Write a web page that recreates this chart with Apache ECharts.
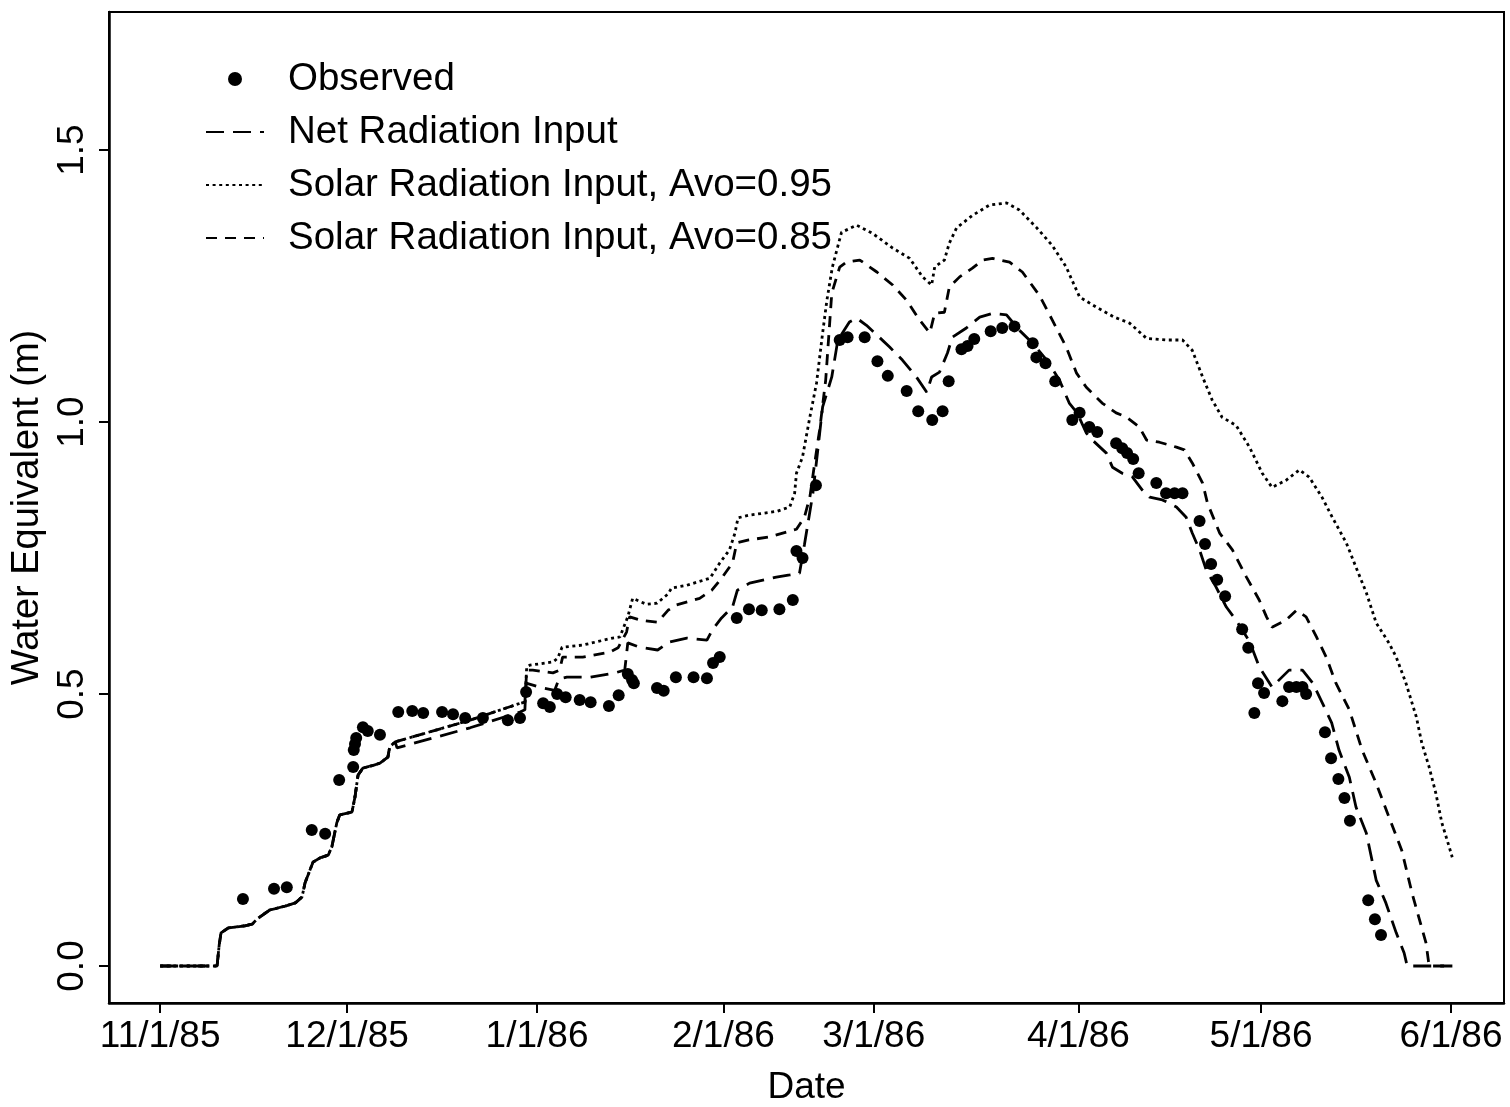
<!DOCTYPE html>
<html>
<head>
<meta charset="utf-8">
<script src="https://cdn.jsdelivr.net/npm/echarts@6/dist/echarts.min.js"></script>
<style>
html,body{margin:0;padding:0;background:#fff;}
#chart{width:1510px;height:1107px;}
</style>
</head>
<body>
<div id="chart"></div>
<script>
// x values are days after 11/1/85 (linear scale of the original plot)
const xTickPositions = [0, 30.7, 61.9, 92.5, 117.2, 150.8, 180.8, 212.0];
const xTickLabels = ['11/1/85', '12/1/85', '1/1/86', '2/1/86', '3/1/86', '4/1/86', '5/1/86', '6/1/86'];
const yTickValues = [0, 0.5, 1.0, 1.5];
const yTickLabels = ['0.0', '0.5', '1.0', '1.5'];

const seriesNames = ['Observed', 'Net Radiation Input', 'Solar Radiation Input, Avo=0.95', 'Solar Radiation Input, Avo=0.85'];

const observed = [[13.6,0.123],[18.7,0.142],[20.8,0.145],[24.9,0.250],[27.1,0.243],[29.4,0.342],[31.7,0.366],[31.8,0.397],[32.0,0.408],[32.2,0.419],[33.3,0.439],[34.1,0.432],[36.1,0.425],[39.1,0.467],[41.4,0.469],[43.2,0.465],[46.3,0.467],[48.1,0.463],[50.1,0.456],[53.0,0.456],[57.1,0.452],[59.1,0.456],[60.1,0.504],[62.9,0.483],[64.0,0.476],[65.2,0.500],[66.6,0.494],[68.9,0.489],[70.7,0.485],[73.7,0.478],[75.3,0.498],[76.8,0.537],[77.5,0.526],[77.8,0.520],[81.6,0.511],[82.7,0.506],[84.7,0.531],[87.6,0.531],[89.8,0.529],[90.8,0.557],[91.9,0.568],[94.7,0.640],[96.7,0.656],[98.8,0.654],[101.7,0.656],[103.9,0.673],[104.5,0.763],[105.5,0.750],[107.7,0.884],[111.6,1.151],[112.9,1.156],[115.7,1.156],[117.8,1.112],[119.5,1.085],[122.6,1.057],[124.5,1.020],[126.8,1.004],[128.5,1.020],[129.5,1.075],[131.6,1.134],[132.6,1.140],[133.7,1.153],[136.4,1.167],[138.3,1.173],[140.3,1.176],[143.3,1.145],[143.9,1.119],[145.4,1.108],[147.0,1.075],[149.8,1.004],[151.0,1.017],[152.6,0.991],[153.9,0.982],[157.0,0.961],[158.0,0.952],[158.8,0.943],[159.8,0.932],[160.7,0.906],[163.6,0.888],[165.2,0.869],[166.6,0.869],[167.9,0.869],[170.7,0.818],[171.6,0.776],[172.6,0.739],[173.6,0.710],[174.9,0.680],[177.7,0.619],[178.7,0.585],[179.7,0.465],[180.3,0.520],[181.3,0.502],[184.3,0.487],[185.4,0.513],[186.6,0.513],[187.6,0.513],[188.2,0.500],[191.3,0.430],[192.3,0.382],[193.5,0.344],[194.5,0.309],[195.4,0.267],[198.4,0.121],[199.5,0.086],[200.5,0.057]];

// early-season part shared by all three model runs
const commonRise = [[0,0],[9.35,0],[9.7,0.039],[10.0,0.061],[11.2,0.070],[13.9,0.074],[15.1,0.077],[16.1,0.088],[18.0,0.103],[20.5,0.110],[22.2,0.116],[23.3,0.127],[23.8,0.153],[25.1,0.191],[26.3,0.199],[27.6,0.204],[28.2,0.219],[29.0,0.263],[29.5,0.278],[31.5,0.283],[32.0,0.311],[32.5,0.351],[33.3,0.364],[35.0,0.369],[36.1,0.373],[37.4,0.384],[37.7,0.403],[38.6,0.412]];

const netRadiationRest = [[38.9,0.401],[50.9,0.438],[59.1,0.467],[59.9,0.471],[60.1,0.520],[62.9,0.511],[64.8,0.507],[65.5,0.528],[66.8,0.531],[70.6,0.531],[74.7,0.539],[76.3,0.544],[76.8,0.594],[78.8,0.586],[81.7,0.581],[83.7,0.596],[86.5,0.603],[89.8,0.599],[90.7,0.618],[92.2,0.640],[94.0,0.660],[94.8,0.691],[96.8,0.704],[101.2,0.715],[103.4,0.719],[105.0,0.722],[105.8,0.774],[107.2,0.869],[108.8,1.028],[110.3,1.083],[111.3,1.151],[113.2,1.184],[114.4,1.191],[116.0,1.178],[118.1,1.156],[119.8,1.138],[121.9,1.114],[124.2,1.083],[125.9,1.055],[126.7,1.083],[128.0,1.092],[129.3,1.127],[130.1,1.156],[132.4,1.173],[134.6,1.193],[136.7,1.200],[139.0,1.197],[141.1,1.169],[143.3,1.145],[145.6,1.114],[147.7,1.077],[149.3,1.035],[150.6,1.017],[152.1,0.980],[153.1,0.967],[155.4,0.943],[156.4,0.917],[158.0,0.906],[159.7,0.899],[161.3,0.875],[162.5,0.862],[164.6,0.857],[166.9,0.844],[168.5,0.825],[169.5,0.796],[170.7,0.765],[171.8,0.728],[173.4,0.697],[175.1,0.660],[176.7,0.636],[178.9,0.597],[180.5,0.550],[182.6,0.513],[185.4,0.544],[187.6,0.544],[189.3,0.520],[190.9,0.483],[192.4,0.447],[193.6,0.397],[195.3,0.347],[196.4,0.292],[198.1,0.244],[199.7,0.158],[201.3,0.116],[203.0,0.061],[204.3,0.024],[204.8,0],[212.2,0]];

const solar95Rest = [[38.9,0.415],[50.9,0.452],[59.1,0.483],[59.9,0.485],[60.2,0.550],[60.7,0.553],[64.5,0.559],[65.3,0.566],[66.0,0.586],[69.4,0.590],[74.3,0.603],[75.5,0.605],[76.8,0.642],[77.6,0.676],[79.9,0.665],[81.6,0.667],[83.4,0.684],[84.0,0.695],[86.5,0.700],[90.3,0.713],[91.9,0.741],[93.5,0.765],[94.4,0.796],[94.9,0.824],[96.8,0.829],[101.3,0.836],[103.4,0.844],[104.2,0.869],[104.5,0.906],[105.5,0.936],[106.7,1.009],[107.8,1.072],[108.8,1.164],[109.5,1.224],[110.4,1.285],[111.9,1.349],[114.4,1.362],[117.0,1.347],[120.3,1.320],[123.1,1.301],[125.2,1.267],[126.7,1.252],[127.2,1.285],[128.8,1.298],[129.6,1.329],[130.8,1.357],[133.4,1.380],[136.2,1.399],[139.0,1.403],[141.1,1.390],[143.9,1.358],[146.5,1.325],[148.8,1.285],[151.0,1.230],[153.8,1.211],[156.7,1.193],[159.2,1.182],[162.0,1.154],[165.2,1.151],[167.9,1.151],[169.5,1.132],[171.2,1.083],[172.8,1.040],[174.4,1.009],[176.7,0.994],[178.9,0.954],[181.0,0.906],[182.6,0.880],[184.9,0.893],[187.1,0.912],[188.7,0.899],[190.8,0.862],[192.5,0.825],[194.8,0.778],[196.4,0.733],[198.1,0.686],[199.7,0.631],[201.8,0.594],[203.0,0.568],[204.6,0.520],[206.3,0.458],[207.2,0.410],[208.4,0.366],[209.5,0.318],[210.5,0.263],[211.7,0.219],[212.2,0.200]];

const solar85Rest = [[38.9,0.415],[50.9,0.452],[59.1,0.483],[59.9,0.485],[60.2,0.544],[61.2,0.544],[64.5,0.539],[65.6,0.544],[66.1,0.568],[69.4,0.568],[73.8,0.577],[75.2,0.585],[76.6,0.614],[77.1,0.642],[78.8,0.636],[81.7,0.632],[83.4,0.654],[84.8,0.664],[88.6,0.676],[90.6,0.691],[92.2,0.713],[94.0,0.741],[94.7,0.778],[96.5,0.783],[100.1,0.789],[102.9,0.798],[104.5,0.803],[105.8,0.825],[106.7,0.862],[107.5,0.925],[108.3,0.985],[109.3,1.077],[110.3,1.237],[111.6,1.285],[112.7,1.294],[114.9,1.298],[117.7,1.276],[120.3,1.252],[122.6,1.224],[124.7,1.188],[126.4,1.164],[127.2,1.200],[128.8,1.202],[129.6,1.248],[131.3,1.267],[133.4,1.283],[135.1,1.298],[136.7,1.301],[139.5,1.294],[141.6,1.276],[144.4,1.233],[146.5,1.188],[148.8,1.138],[150.5,1.090],[152.1,1.064],[154.7,1.035],[157.0,1.017],[158.7,1.009],[160.8,0.991],[162.0,0.967],[164.1,0.963],[166.9,0.954],[168.2,0.949],[169.5,0.925],[171.2,0.888],[172.0,0.851],[174.0,0.796],[176.1,0.765],[178.4,0.715],[180.5,0.673],[181.7,0.642],[182.6,0.623],[184.9,0.636],[186.6,0.654],[188.2,0.642],[189.9,0.605],[191.5,0.568],[193.1,0.520],[195.3,0.471],[197.4,0.397],[199.7,0.336],[201.8,0.274],[203.9,0.213],[205.6,0.134],[206.7,0.090],[207.9,0.042],[208.4,0],[212.2,0]];

const netRadiation = commonRise.concat(netRadiationRest);
const solar95 = commonRise.concat(solar95Rest);
const solar85 = commonRise.concat(solar85Rest);

const FONT = '"Liberation Sans", Arial, Helvetica, sans-serif';
const chart = echarts.init(document.getElementById('chart'), null, {renderer: 'canvas'});

function lineSeries(name, data, dash) {
  return {
    name: name, type: 'line', data: data, showSymbol: false, symbol: 'none',
    silent: true, animation: false,
    lineStyle: {color: '#000', width: 2.8, type: dash},
    itemStyle: {color: '#000'}
  };
}

chart.setOption({
  backgroundColor: '#fff',
  animation: false,
  grid: {
    left: 109, right: 6, top: 12, bottom: 104,
    containLabel: false, outerBoundsMode: 'none',
    show: true, borderColor: '#000', borderWidth: 2, backgroundColor: 'transparent'
  },
  legend: {
    orient: 'vertical', left: 200, top: 52, itemWidth: 58, itemHeight: 14, itemGap: 9,
    selectedMode: false,
    textStyle: {fontFamily: FONT, fontSize: 38.5, color: '#000', lineHeight: 44, padding: [0, 0, 0, 19]},
    data: [
      {name: seriesNames[0], itemStyle: {opacity: 1}},
      {name: seriesNames[1], itemStyle: {opacity: 0}},
      {name: seriesNames[2], itemStyle: {opacity: 0}},
      {name: seriesNames[3], itemStyle: {opacity: 0}}
    ]
  },
  xAxis: {
    type: 'value', min: -8.4, max: 220.7,
    name: 'Date', nameLocation: 'middle', nameGap: 66,
    nameTextStyle: {fontFamily: FONT, fontSize: 37, color: '#000'},
    splitLine: {show: false},
    axisLine: {show: true, onZero: false, lineStyle: {color: '#000', width: 2.5}},
    axisTick: {show: true, length: 10, customValues: xTickPositions, lineStyle: {color: '#000', width: 2}},
    axisLabel: {
      customValues: xTickPositions, margin: 15,
      fontFamily: FONT, fontSize: 37, color: '#000',
      formatter: function (v) { const i = xTickPositions.indexOf(v); return i >= 0 ? xTickLabels[i] : ''; }
    }
  },
  yAxis: {
    type: 'value', min: -0.068, max: 1.754,
    name: 'Water Equivalent (m)', nameLocation: 'middle', nameGap: 61,
    nameTextStyle: {fontFamily: FONT, fontSize: 38, color: '#000'},
    splitLine: {show: false},
    axisLine: {show: true, onZero: false, lineStyle: {color: '#000', width: 2.5}},
    axisTick: {show: true, length: 10, customValues: yTickValues, lineStyle: {color: '#000', width: 2}},
    axisLabel: {
      customValues: yTickValues, rotate: 90, margin: 18,
      fontFamily: FONT, fontSize: 37, color: '#000',
      formatter: function (v) { const i = yTickValues.indexOf(v); return i >= 0 ? yTickLabels[i] : ''; }
    }
  },
  series: [
    {
      name: seriesNames[0], type: 'scatter', data: observed, symbol: 'circle', symbolSize: 12,
      itemStyle: {color: '#000', opacity: 1}, silent: true, animation: false, z: 3
    },
    lineSeries(seriesNames[1], netRadiation, [18, 9]),
    lineSeries(seriesNames[2], solar95, [3, 3.6]),
    lineSeries(seriesNames[3], solar85, [11, 8])
  ]
});
</script>
</body>
</html>
